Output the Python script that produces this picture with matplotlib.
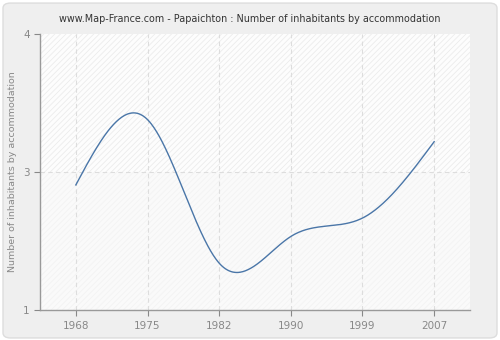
import numpy as np
import matplotlib
matplotlib.use("Agg")
import matplotlib.pyplot as plt
from matplotlib.patches import FancyBboxPatch

years = ["1968", "1975", "1982", "1990", "1999", "2007"]
inhabitants = [2.36, 3.07, 1.51, 1.80, 2.00, 2.83]
ytick_vals = [1, 2.5, 4]
ytick_labels = ["1", "3", "4"]
title = "www.Map-France.com - Papaichton : Number of inhabitants by accommodation"
ylabel = "Number of inhabitants by accommodation"


def natural_spline(x, y, n=400):
    # natural cubic spline through the points, for a smooth line
    x = np.asarray(x, float)
    y = np.asarray(y, float)
    k = len(x)
    h = np.diff(x)
    A = np.zeros((k, k))
    b = np.zeros(k)
    A[0, 0] = A[-1, -1] = 1
    for i in range(1, k - 1):
        A[i, i - 1] = h[i - 1]
        A[i, i] = 2 * (h[i - 1] + h[i])
        A[i, i + 1] = h[i]
        b[i] = 3 * ((y[i + 1] - y[i]) / h[i] - (y[i] - y[i - 1]) / h[i - 1])
    c = np.linalg.solve(A, b)
    xs = np.linspace(x[0], x[-1], n)
    ys = np.empty_like(xs)
    for j, xv in enumerate(xs):
        i = min(np.searchsorted(x, xv, side="right") - 1, k - 2)
        d = xv - x[i]
        bi = (y[i + 1] - y[i]) / h[i] - h[i] * (2 * c[i] + c[i + 1]) / 3
        di = (c[i + 1] - c[i]) / (3 * h[i])
        ys[j] = y[i] + bi * d + c[i] * d ** 2 + di * d ** 3
    return xs, ys


fig = plt.figure(figsize=(5, 3.4), dpi=100)
fig.patch.set_facecolor("white")
frame = FancyBboxPatch((0.006, 0.006), 0.988, 0.985,
                       boxstyle="round,pad=0,rounding_size=0.015",
                       transform=fig.transFigure, facecolor="#efefef",
                       edgecolor="#dddddd", linewidth=1, zorder=-10)
fig.patches.append(frame)

ax = fig.add_axes([0.08, 0.088, 0.86, 0.812])
ax.set_facecolor("#fafafa")
pos = np.arange(len(years))
ax.set_xlim(-0.5, len(years) - 0.5)
ax.set_ylim(1, 4)

# hatched background, stronger above the middle line
plt.rcParams["hatch.linewidth"] = 0.6
ax.axhspan(2.5, 4, facecolor="#fdfdfd", edgecolor="#ececec", hatch="//////", linewidth=0, zorder=0)
ax.axhspan(1, 2.5, facecolor="#fafafa", edgecolor="#f3f3f3", hatch="//////", linewidth=0, zorder=0)

for p in pos:
    ax.axvline(p, color="#dddddd", linestyle=(0, (4, 3)), linewidth=0.8, zorder=1)
ax.axhline(2.5, color="#dddddd", linestyle=(0, (4, 3)), linewidth=0.8, zorder=1)

xs, ys = natural_spline(pos, inhabitants)
ax.plot(xs, ys, color="#4a76a8", linewidth=1.0, zorder=3)

ax.set_xticks(pos)
ax.set_xticklabels(years)
ax.set_yticks(ytick_vals)
ax.set_yticklabels(ytick_labels)
ax.tick_params(colors="#888888", labelsize=7.5, length=4, width=0.8, direction="out")
ax.tick_params(axis="x", pad=4)
for side in ["top", "right"]:
    ax.spines[side].set_visible(False)
for side in ["left", "bottom"]:
    ax.spines[side].set_color("#999999")
    ax.spines[side].set_linewidth(1.0)

ax.set_ylabel(ylabel, color="#888888", fontsize=6.8, labelpad=4)
fig.text(0.5, 0.945, title, ha="center", va="center", fontsize=6.9, color="#333333")

fig.savefig("out.png", dpi=100, facecolor=fig.get_facecolor())
